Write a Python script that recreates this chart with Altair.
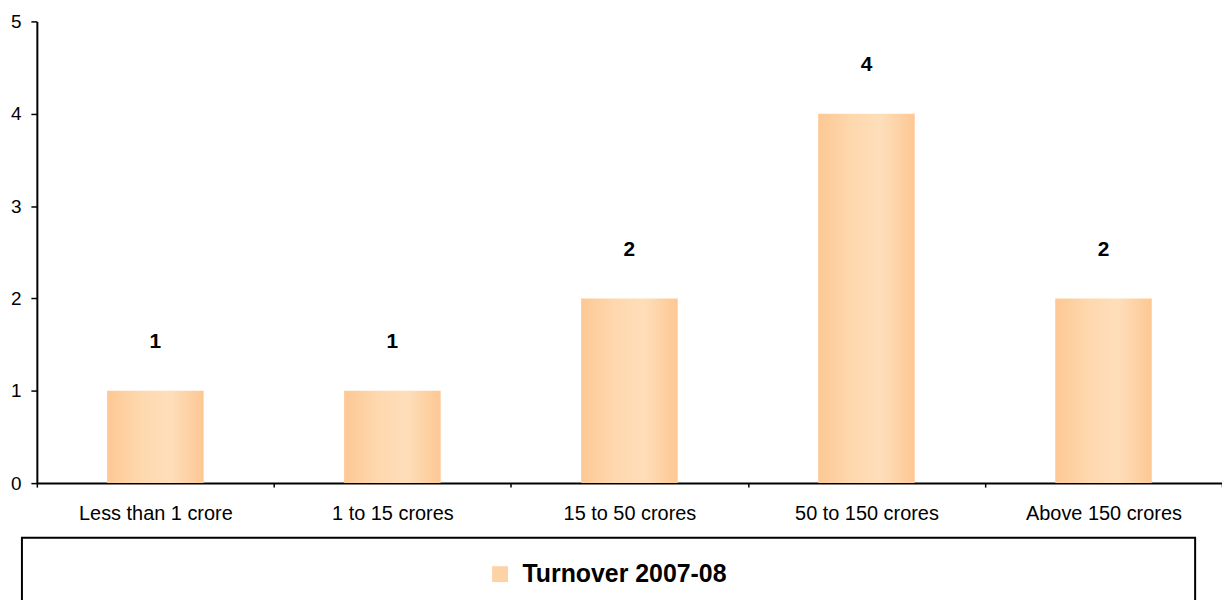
import altair as alt
import pandas as pd

categories = ["Less than 1 crore", "1 to 15 crores", "15 to 50 crores", "50 to 150 crores", "Above 150 crores"]
values = [1, 1, 2, 4, 2]
series_name = "Turnover 2007-08"
y_ticks = [0, 1, 2, 3, 4, 5]

df = pd.DataFrame({"category": categories, "value": values, "series": [series_name] * len(categories)})

FONT = "Liberation Sans"
gradient = {
    "gradient": "linear", "x1": 0, "x2": 1, "y1": 0, "y2": 0,
    "stops": [
        {"offset": 0, "color": "#FDC894"},
        {"offset": 0.35, "color": "#FED8AE"},
        {"offset": 0.65, "color": "#FEDEBA"},
        {"offset": 1, "color": "#FDC793"},
    ],
}

x_enc = alt.X("category:N", sort=categories,
              scale=alt.Scale(paddingInner=0, paddingOuter=0),
              axis=alt.Axis(title=None, labelAngle=0, tickBand="extent", tickSize=4,
                            labelPadding=17, labelFontSize=20, labelFont=FONT,
                            labelColor="black", domainColor="black", domainWidth=2,
                            tickColor="black", tickWidth=1.5, grid=False, labelLimit=300))
y_enc = alt.Y("value:Q", scale=alt.Scale(domain=[0, 5], nice=False),
              axis=alt.Axis(title=None, values=y_ticks, format="d", tickSize=6, labelPadding=10,
                            labelFontSize=19, labelFont=FONT, labelColor="black",
                            domainColor="black", domainWidth=2, tickColor="black",
                            tickWidth=1.5, grid=False))

base = alt.Chart(df)

bars = base.mark_bar(size=97, color=gradient).encode(x=x_enc, y=y_enc)

labels = base.mark_text(dy=-49, fontSize=21, fontWeight="bold", font=FONT, color="black",
                        baseline="middle").encode(
    x=alt.X("category:N", sort=categories), y="value:Q", text="value:Q")

legend_layer = base.mark_square(opacity=0).encode(
    x=alt.X("category:N", sort=categories), y="value:Q",
    color=alt.Color("series:N", scale=alt.Scale(range=["#FDD2A4"]),
                    legend=alt.Legend(title=None, orient="none", legendX=453, legendY=543,
                                      symbolType="square", symbolSize=256, symbolOpacity=1,
                                      symbolStrokeWidth=0, labelFont=FONT, labelFontSize=25,
                                      labelFontWeight="bold", labelColor="black",
                                      labelOffset=10, padding=0, labelLimit=400)))

box = alt.Chart(pd.DataFrame({"k": [0]})).mark_rect(fillOpacity=0, stroke="black", strokeWidth=2).encode(
    x=alt.value(-15), x2=alt.value(1164), y=alt.value(519), y2=alt.value(640))

chart = alt.layer(bars, labels, legend_layer, box).properties(
    width=1191, height=464,
    background="white",
    autosize=alt.AutoSizeParams(type="none"),
    padding={"left": 29, "top": 12, "right": 0, "bottom": 116},
).configure_view(stroke=None, strokeWidth=0)

chart.save("out.html", embed_options={"renderer": "svg", "actions": False})
